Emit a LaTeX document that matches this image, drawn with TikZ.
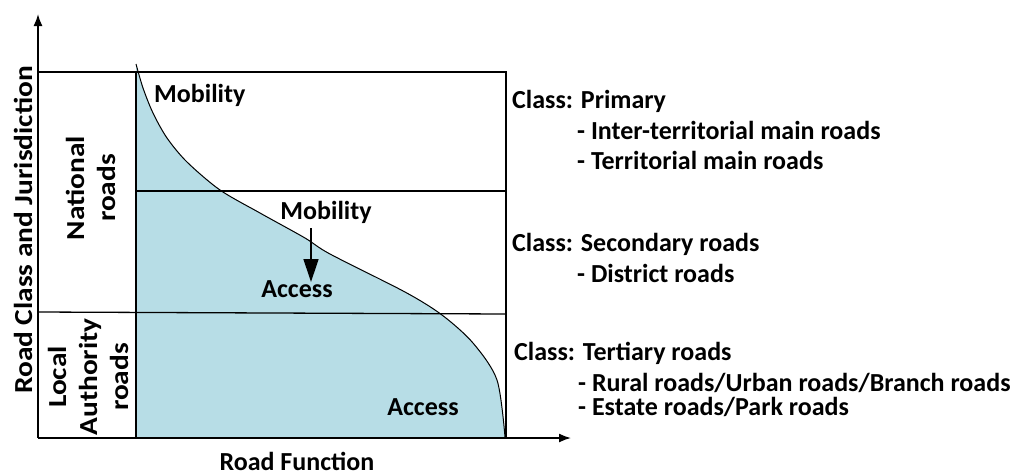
\documentclass[tikz,border=0pt]{standalone}
\usepackage{fontspec}
\setmainfont{Carlito}
\usetikzlibrary{arrows.meta}
\definecolor{fillblue}{RGB}{183,221,230}
\begin{document}
\begin{tikzpicture}[x=1pt,y=-1pt,
  lbl/.style={font=\fontsize{26}{27}\selectfont\bfseries, inner sep=0pt, text height=18pt, text depth=5pt},
  rlbl/.style={font=\fontsize{26}{31}\selectfont\bfseries, inner sep=0pt, rotate=90, xscale=1.13, align=center},
  ln/.style={line width=1.3pt},
  axis/.style={line width=1.6pt, -{Latex[length=12pt,width=9pt]}},
  bigarrow/.style={line width=1.3pt, -{Triangle[length=23pt,width=15pt]}}]
\useasboundingbox (0,0) rectangle (1018,475);
% frame coordinates
\coordinate (O) at (38,438);
\coordinate (ytop) at (38,14);
\coordinate (xend) at (571,438);
\coordinate (tl) at (38,72);
\coordinate (tr) at (506,72);
\coordinate (br) at (506,438);
\coordinate (vt) at (136,72);
\coordinate (vb) at (136,438);
\coordinate (m1l) at (136,191);
\coordinate (m1r) at (506,191);
\coordinate (m2l) at (38,312);
\coordinate (m2r) at (506,314);
\def\curvepts{(136,64) (143,88) (153,113) (167,138) (187,162) (220,190) (260,213) (305,238) (330,254) (405,292) (442,315) (473,343) (497,380) (505,437)}
% fill under the curve
\fill[fillblue] (136,438) -- (136,66)
  -- plot[smooth, tension=0.5] coordinates {\curvepts}
  -- cycle;
% curve
\draw[line width=1pt] plot[smooth, tension=0.5] coordinates {\curvepts};
% frame lines
\draw[ln] (tl) -- (tr) -- (br);
\draw[ln] (vt) -- (vb);
\draw[ln] (m1l) -- (m1r);
\draw[ln] (m2l) -- (m2r);
% axes
\draw[axis] (O) -- (ytop);
\draw[axis] (O) -- (xend);
% labels in plot
\node[lbl, anchor=west] (mob1) at (154,96) {Mobility};
\node[lbl] (mob2) at (326,213) {Mobility};
\node[lbl] (acc1) at (297,291) {Access};
\node[lbl] (acc2) at (423,409) {Access};
\coordinate (arrtop) at (311,228);
\coordinate (arrbot) at (311,282);
\draw[bigarrow] (arrtop) -- (arrbot);
% axis labels
\node[lbl, text depth=0pt, anchor=base] (xlab) at (297,470) {Road Function};
\node[rlbl] (ylab) at (23,230) {Road Class and Jurisdiction};
\node[rlbl] (nat) at (91,188) {National\\roads};
\node[rlbl] (loc) at (88,377) {Local\\Authority\\roads};
% right texts
\node[lbl, anchor=west] (c1) at (512,102) {Class: Primary};
\node[lbl, anchor=west] (c1a) at (577,133) {- Inter-territorial main roads};
\node[lbl, anchor=west] (c1b) at (577,163) {- Territorial main roads};
\node[lbl, anchor=west] (c2) at (512,245) {Class: Secondary roads};
\node[lbl, anchor=west] (c2a) at (577,276) {- District roads};
\node[lbl, anchor=west] (c3) at (514,354) {Class: Tertiary roads};
\node[lbl, anchor=west] (c3a) at (578,385) {- Rural roads/Urban roads/Branch roads};
\node[lbl, anchor=west] (c3b) at (578,409) {- Estate roads/Park roads};
\end{tikzpicture}
\end{document}
